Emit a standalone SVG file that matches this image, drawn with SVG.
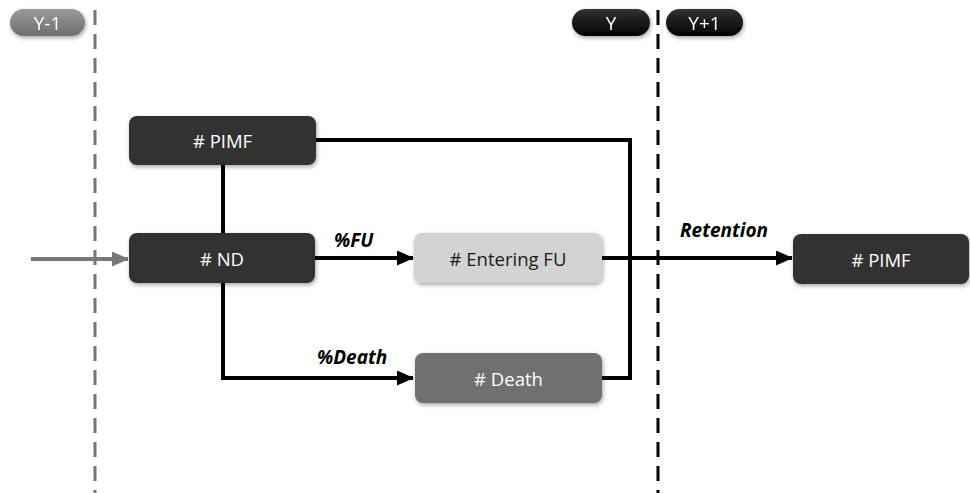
<svg xmlns="http://www.w3.org/2000/svg" width="970" height="493" viewBox="0 0 970 493">
<style>
.box{stroke:none;filter:url(#sh)}
.dark{fill:#333333}
.lt{fill:#d3d3d3}
.mid{fill:#6f6f6f}
.t{font-family:"Open Sans","Liberation Sans",sans-serif;font-size:18.5px;text-anchor:middle;dominant-baseline:central}
.w{fill:#ffffff}
.k{fill:#1a1a1a}
.lbl{font-family:"Open Sans","Liberation Sans",sans-serif;font-size:19px;font-weight:bold;font-style:italic;fill:#000}
.ln{fill:none;stroke:#000;stroke-width:4}
.pill{font-family:"Open Sans","Liberation Sans",sans-serif;font-size:19px;fill:#fff;text-anchor:middle;dominant-baseline:central}
</style>
<defs>
<filter id="sh" x="-10%" y="-20%" width="125%" height="150%">
<feDropShadow dx="1" dy="2" stdDeviation="2" flood-color="#000" flood-opacity="0.35"/>
</filter>
<linearGradient id="gpill" x1="0" y1="0" x2="0" y2="1">
<stop offset="0" stop-color="#9a9a9a"/><stop offset="1" stop-color="#6e6e6e"/>
</linearGradient>
<linearGradient id="kpill" x1="0" y1="0" x2="0" y2="1">
<stop offset="0" stop-color="#333"/><stop offset="1" stop-color="#000"/>
</linearGradient>
<marker id="ah" markerWidth="17" markerHeight="15" refX="16" refY="7.5" orient="auto" markerUnits="userSpaceOnUse">
<path d="M0,0 L17,7.5 L0,15 Z" fill="#000"/>
</marker>
<marker id="ahg" markerWidth="17" markerHeight="15" refX="16" refY="7.5" orient="auto" markerUnits="userSpaceOnUse">
<path d="M0,0 L17,7.5 L0,15 Z" fill="#777"/>
</marker>
</defs>

<g id="timeline">
<line x1="95" y1="10" x2="95" y2="493" stroke="#777" stroke-width="3" stroke-dasharray="15 9"/>
<line x1="658" y1="10" x2="658" y2="493" stroke="#000" stroke-width="3" stroke-dasharray="15 9"/>
<g id="pill-y-1" filter="url(#sh)"><rect x="10" y="9" width="75" height="27" rx="13.5" fill="url(#gpill)"/><text class="pill" x="47.5" y="22.5">Y-1</text></g>
<g id="pill-y" filter="url(#sh)"><rect x="572" y="9" width="78" height="27" rx="13.5" fill="url(#kpill)"/><text class="pill" x="611" y="22.5">Y</text></g>
<g id="pill-y1" filter="url(#sh)"><rect x="666" y="9" width="77" height="27" rx="13.5" fill="url(#kpill)"/><text class="pill" x="704.5" y="22.5">Y+1</text></g>
</g>

<g id="connectors">
<line x1="31" y1="259" x2="128" y2="259" stroke="#777" stroke-width="4" marker-end="url(#ahg)"/>
<line class="ln" x1="223" y1="165" x2="223" y2="233"/>
<polyline class="ln" points="316,140 630,140 630,378 602,378"/>
<polyline class="ln" points="223,283 223,378 413,378" marker-end="url(#ah)"/>
<line class="ln" x1="315" y1="258" x2="413" y2="258" marker-end="url(#ah)"/>
<line class="ln" x1="602" y1="258" x2="792" y2="258" marker-end="url(#ah)"/>
<text class="lbl" x="334" y="247">%FU</text>
<text class="lbl" x="317" y="364">%Death</text>
<text class="lbl" x="680" y="237">Retention</text>
</g>

<g id="pimf-top"><rect class="box dark" x="129" y="116" width="187" height="49" rx="8"/><text class="t w" x="222.5" y="140.5"># PIMF</text></g>
<g id="nd"><rect class="box dark" x="129" y="233" width="186" height="50" rx="8"/><text class="t w" x="222" y="258"># ND</text></g>
<g id="entering-fu"><rect class="box lt" x="414" y="233" width="188" height="50" rx="8"/><text class="t k" x="508" y="258"># Entering FU</text></g>
<g id="death"><rect class="box mid" x="415" y="353" width="187" height="50" rx="8"/><text class="t w" x="508.5" y="378"># Death</text></g>
<g id="pimf-right"><rect class="box dark" x="793" y="234" width="176" height="50" rx="8"/><text class="t w" x="881" y="259"># PIMF</text></g>
</svg>
